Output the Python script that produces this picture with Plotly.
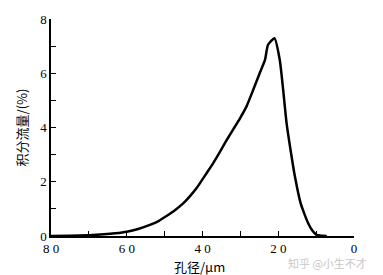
import plotly.graph_objects as go

pore_um = [80, 75, 70, 66, 63, 60, 57, 53.9, 51.5, 49.5, 47.2, 45.1, 43.3, 41.6, 40.7, 39, 37.2,
           35.4, 33.6, 31.8, 30.1, 28.4, 26.6, 24.9, 23.5, 22.7, 21.0, 19.6, 18.7, 17.8, 16.75,
           15.6, 14.1, 13.0, 12.1, 11.0, 9.9, 8.5, 7.2]
flow_pct = [0.0, 0.01, 0.03, 0.06, 0.1, 0.16, 0.26, 0.41, 0.56, 0.74, 0.96, 1.2, 1.47, 1.76,
            1.94, 2.3, 2.68, 3.1, 3.54, 3.95, 4.34, 4.77, 5.39, 6.0, 6.49, 7.05, 7.29, 6.49,
            5.39, 4.16, 3.17, 2.19, 1.21, 0.78, 0.47, 0.2, 0.04, 0.01, 0.0]

x_ticks = [80, 60, 40, 20, 0]
y_ticks = [0, 2, 4, 6, 8]

fig = go.Figure()
fig.add_trace(go.Scatter(x=pore_um, y=flow_pct, mode="lines",
                         line=dict(color="black", width=2.5, shape="spline", smoothing=0.5),
                         showlegend=False))

axis_common = dict(showgrid=False, zeroline=False, showline=True, linecolor="black", linewidth=1.5,
                   ticks="inside", ticklen=5, tickwidth=1.2, tickcolor="black",
                   tickfont=dict(family="Liberation Serif", size=13, color="black"))
fig.update_xaxes(range=[80, 0], tickvals=x_ticks, ticktext=["8 0", "6 0", "4 0", "2 0", "0"],
                 minor=dict(ticks="inside", dtick=10, ticklen=5, tickcolor="black", tickwidth=1.2),
                 **axis_common)
fig.update_yaxes(range=[0, 8], tickvals=y_ticks,
                 minor=dict(ticks="inside", dtick=1, ticklen=5, tickcolor="black", tickwidth=1.2),
                 **axis_common)

fig.update_layout(
    width=383, height=275,
    margin=dict(l=51, r=29, t=19, b=39),
    plot_bgcolor="white", paper_bgcolor="white",
    annotations=[
        dict(text="积分流量/(%)", xref="paper", yref="paper", x=-0.096, y=0.50, textangle=-90,
             showarrow=False, font=dict(family="Noto Sans CJK SC", size=13, color="black"),
             xanchor="center", yanchor="middle"),
        dict(text="孔径/μm", xref="paper", yref="paper", x=0.49, y=-0.14,
             showarrow=False, font=dict(family="Noto Sans CJK SC", size=13, color="black"),
             xanchor="center", yanchor="middle"),
        dict(text="知乎 @小生不才", xref="paper", yref="paper", x=1.05, y=-0.125,
             showarrow=False, font=dict(family="Noto Sans CJK SC", size=11, color="#c8c8c8"),
             xanchor="right", yanchor="middle"),
    ],
)

fig.write_html("out.html")
